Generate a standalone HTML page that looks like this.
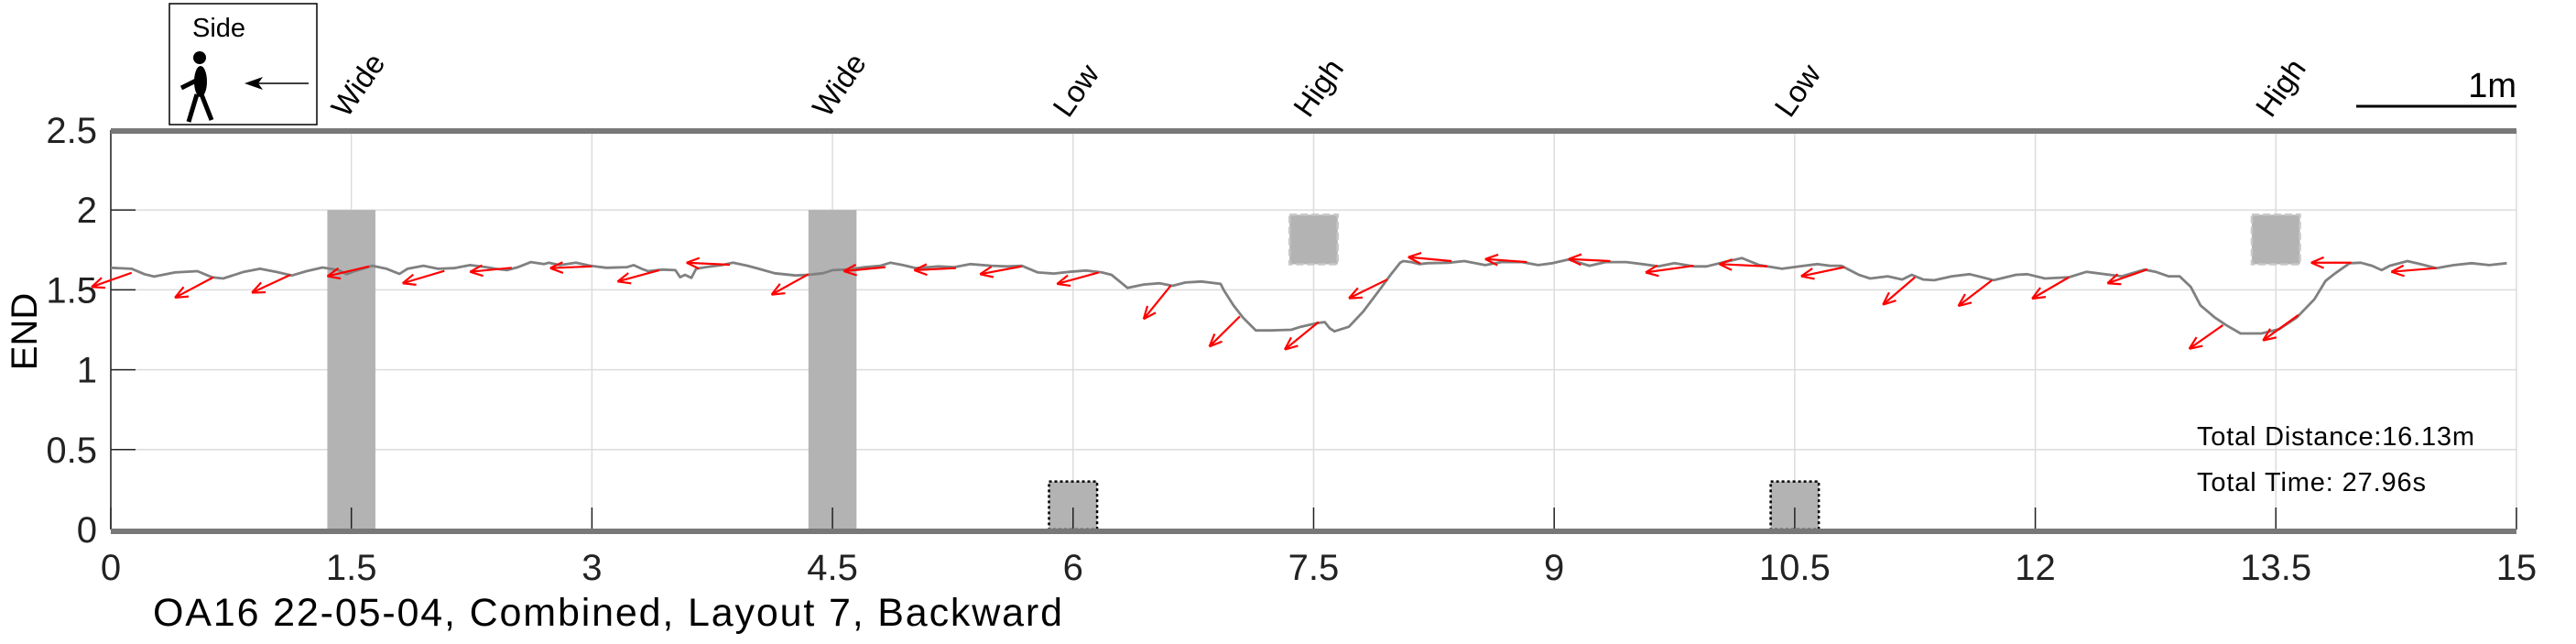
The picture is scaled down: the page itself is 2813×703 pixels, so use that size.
<!DOCTYPE html>
<html><head><meta charset="utf-8">
<style>
html,body{margin:0;padding:0;background:#fff;}
svg{display:block;font-family:"Liberation Sans",sans-serif;}
</style></head>
<body>
<svg id="chart" width="2813" height="703" viewBox="0 0 2813 703" xmlns="http://www.w3.org/2000/svg">
  <g id="grid"></g>
  <g id="obstacles"></g>
  <g id="axes"></g>
  <g id="series"></g>
  <g id="labels"></g>

  <g>
    <rect x="185" y="4" width="161" height="132" fill="#fff" stroke="#000" stroke-width="1.5"/>
    <text x="210" y="40" font-size="29" fill="#000">Side</text>
    <circle cx="218" cy="63" r="7" fill="#000"/>
    <ellipse cx="219" cy="89" rx="7" ry="17" fill="#000"/>
    <line x1="214" y1="88" x2="198" y2="96" stroke="#000" stroke-width="5"/>
    <line x1="215" y1="103" x2="206" y2="133" stroke="#000" stroke-width="5"/>
    <line x1="220" y1="103" x2="231" y2="131" stroke="#000" stroke-width="5"/>
    <line x1="337" y1="91" x2="280" y2="91" stroke="#000" stroke-width="1.5"/>
    <polygon points="267,91 287,84 282,91 287,98" fill="#000"/>
  </g>

  <g>
    <text x="2748" y="106" font-size="38" text-anchor="end" fill="#000">1m</text>
    <line x1="2573" y1="116" x2="2748" y2="116" stroke="#000" stroke-width="3"/>
  </g>

  <g>
    <text x="2399" y="486" font-size="29" textLength="303" fill="#000">Total Distance:16.13m</text>
    <text x="2399" y="536" font-size="29" textLength="250" fill="#000">Total Time: 27.96s</text>
  </g>

  <text x="0" y="0" font-size="40" text-anchor="middle" transform="translate(40,362) rotate(-90)" fill="#000">END</text>
  <text x="167" y="683" font-size="43" textLength="993" fill="#000">OA16 22-05-04, Combined, Layout 7, Backward</text>
</svg>
<script>
// ---- data ----
const pathX = [0.00,0.13,0.21,0.27,0.40,0.54,0.63,0.70,0.83,0.93,1.03,1.13,1.22,1.32,1.42,1.47,1.52,1.63,1.72,1.80,1.85,1.95,2.04,2.14,2.24,2.34,2.40,2.47,2.54,2.62,2.70,2.73,2.80,2.90,2.99,3.09,3.22,3.26,3.31,3.35,3.44,3.52,3.55,3.58,3.62,3.65,3.71,3.81,3.88,3.97,4.04,4.14,4.27,4.35,4.44,4.50,4.60,4.70,4.80,4.86,4.94,5.02,
5.16,5.26,5.36,5.49,5.59,5.68,5.78,5.88,5.98,6.08,6.18,6.24,6.34,6.44,6.54,6.62,6.70,6.80,6.92,6.94,7.00,7.06,7.14,7.23,7.36,7.42,7.52,7.57,7.60,7.63,7.72,7.81,7.91,7.98,8.04,8.06,8.11,8.16,8.21,8.34,8.44,8.57,8.67,8.80,8.90,8.99,9.09,9.22,9.32,9.45,9.55,9.65,9.75,9.87,
9.95,10.06,10.17,10.28,10.42,10.53,10.64,10.72,10.79,10.90,10.97,11.08,11.17,11.23,11.30,11.37,11.48,11.59,11.74,11.88,11.95,12.06,12.21,12.32,12.43,12.54,12.68,12.75,12.83,12.90,12.97,13.03,13.12,13.19,13.28,13.41,13.52,13.63,13.74,13.81,13.87,13.96,14.03,14.10,14.16,14.21,14.32,14.40,14.50,14.61,14.72,14.83,14.94];
const pathY = [1.638,1.632,1.598,1.583,1.609,1.617,1.579,1.571,1.613,1.632,1.613,1.590,1.617,1.640,1.623,1.598,1.617,1.651,1.632,1.600,1.632,1.651,1.632,1.636,1.655,1.642,1.632,1.623,1.642,1.674,1.661,1.670,1.655,1.670,1.651,1.638,1.642,1.655,1.632,1.617,1.627,1.623,1.579,1.594,1.575,1.632,1.642,1.655,1.670,1.651,1.632,1.604,1.590,1.594,1.604,1.623,1.628,1.642,1.651,1.670,1.655,1.636,
1.647,1.642,1.661,1.651,1.647,1.651,1.609,1.602,1.613,1.621,1.609,1.594,1.512,1.533,1.541,1.525,1.546,1.552,1.537,1.498,1.403,1.326,1.246,1.246,1.250,1.269,1.292,1.298,1.260,1.240,1.269,1.365,1.498,1.594,1.670,1.680,1.674,1.661,1.667,1.670,1.680,1.655,1.674,1.674,1.655,1.667,1.690,1.651,1.674,1.674,1.661,1.647,1.667,1.647,
1.647,1.674,1.699,1.655,1.632,1.647,1.661,1.651,1.651,1.594,1.571,1.585,1.565,1.594,1.565,1.560,1.585,1.598,1.560,1.594,1.598,1.571,1.579,1.613,1.598,1.585,1.627,1.613,1.585,1.585,1.518,1.403,1.326,1.279,1.227,1.227,1.254,1.326,1.441,1.556,1.604,1.667,1.670,1.651,1.623,1.651,1.680,1.661,1.636,1.655,1.667,1.655,1.667];

const arrowTailX = [0.13,0.64,1.12,1.61,2.08,2.50,3.00,3.42,3.86,4.35,4.83,5.27,5.68,6.16,6.61,7.04,7.53,7.96,8.36,8.83,9.35,9.87,10.33,10.81,11.25,11.73,12.21,12.70,13.17,13.64,13.97,14.50];
const arrowTailY = [1.607,1.579,1.594,1.647,1.619,1.638,1.647,1.623,1.657,1.598,1.642,1.636,1.647,1.609,1.527,1.334,1.298,1.565,1.680,1.674,1.680,1.651,1.647,1.642,1.579,1.560,1.579,1.628,1.279,1.342,1.670,1.636];
const arrowHeadX = [-0.12,0.40,0.88,1.35,1.82,2.24,2.74,3.16,3.59,4.12,4.57,5.01,5.42,5.90,6.44,6.85,7.32,7.72,8.09,8.57,9.09,9.57,10.03,10.54,11.05,11.52,11.98,12.45,12.96,13.42,13.72,14.22];
const arrowHeadY = [1.518,1.451,1.482,1.585,1.541,1.613,1.636,1.552,1.670,1.470,1.617,1.623,1.598,1.537,1.317,1.145,1.126,1.447,1.705,1.693,1.693,1.609,1.661,1.585,1.407,1.399,1.445,1.541,1.131,1.183,1.670,1.613];

const obstacleNames = ["Wide","Wide","Low","High","Low","High"];
const obstacleCenter = [1.5,4.5,6,7.5,10.5,13.5];
const obstacleWidth = [0.3,0.3,0.3,0.3,0.3,0.3];
const obstacleBottom = [0,0,0,1.66,0,1.66];
const obstacleTop = [2,2,0.3,1.97,0.3,1.97];

const xTicks = [0,1.5,3,4.5,6,7.5,9,10.5,12,13.5,15];
const xTickLabels = ["0","1.5","3","4.5","6","7.5","9","10.5","12","13.5","15"];
const yTicks = [0,0.5,1,1.5,2,2.5];
const yTickLabels = ["0","0.5","1","1.5","2","2.5"];

// ---- axes ----
const X0 = 121, XS = 175.13, Y0 = 578, YS = 174.4;
function xs(v){ return X0 + v*XS; }
function ys(v){ return Y0 - v*YS; }
const NS = "http://www.w3.org/2000/svg";
function mk(tag, attrs, parent){
  const e = document.createElementNS(NS, tag);
  for (const k in attrs) e.setAttribute(k, attrs[k]);
  parent.appendChild(e);
  return e;
}
const grid = document.getElementById('grid');
const axes = document.getElementById('axes');
const obs = document.getElementById('obstacles');
const series = document.getElementById('series');
const labels = document.getElementById('labels');

xTicks.forEach((t,i)=>{
  const g = mk('line',{x1:xs(t),x2:xs(t),y1:ys(2.5),y2:ys(0),stroke:'#dcdcdc','stroke-width':1.5},grid);
  
  
  const tk = mk('line',{x1:xs(t),x2:xs(t),y1:ys(0),y2:ys(0)-24,stroke:'#222','stroke-width':1.5},axes);
  
  
  const lb = mk('text',{x:xs(t),y:633,'font-size':40,'text-anchor':'middle',fill:'#222'},axes);
  lb.textContent = xTickLabels[i];
  
  
});
yTicks.forEach((t,i)=>{
  const g = mk('line',{x1:xs(0),x2:xs(15),y1:ys(t),y2:ys(t),stroke:'#dcdcdc','stroke-width':1.5},grid);
  
  
  const tk = mk('line',{x1:xs(0),x2:xs(0)+27,y1:ys(t),y2:ys(t),stroke:'#222','stroke-width':1.5},axes);
  
  
  const lb = mk('text',{x:106,y:ys(t)+14,'font-size':40,'text-anchor':'end',fill:'#222'},axes);
  lb.textContent = yTickLabels[i];
  
  
});
const la = mk('line',{x1:xs(0),x2:xs(0),y1:ys(2.5),y2:ys(0),stroke:'#222','stroke-width':1.5},axes);


const topB = mk('line',{x1:xs(0),x2:xs(15),y1:143,y2:143,stroke:'#787878','stroke-width':6},axes);


const botB = mk('line',{x1:xs(0),x2:xs(15),y1:580,y2:580,stroke:'#787878','stroke-width':6},axes);



// ---- obstacles ----
obstacleCenter.forEach((c,i)=>{
  const x1 = xs(c-obstacleWidth[i]/2), x2 = xs(c+obstacleWidth[i]/2);
  const y1 = ys(obstacleTop[i]), y2 = ys(obstacleBottom[i]);
  const attrs = {x:x1,y:y1,width:x2-x1,height:y2-y1,fill:'#b3b3b3'};
  if (obstacleNames[i]==='Low'){ attrs.stroke='#000'; attrs['stroke-width']=2.5; attrs['stroke-dasharray']='3,3'; }
  if (obstacleNames[i]==='High'){ attrs.stroke='#c8c8c8'; attrs['stroke-width']=2.5; attrs['stroke-dasharray']='8,4'; }
  const r = mk('rect',attrs,obs);
  
  
  const t = mk('text',{x:0,y:0,'font-size':33,fill:'#000',transform:'translate('+(xs(c)-5)+',130) rotate(-55)'},labels);
  t.textContent = obstacleNames[i];
  
  
});

// ---- path ----
let d = '';
pathX.forEach((x,i)=>{ d += (i?'L':'M') + xs(x).toFixed(1) + ',' + ys(pathY[i]).toFixed(1); });
const p = mk('path',{d:d,fill:'none',stroke:'#808080','stroke-width':2.8,'stroke-linejoin':'round'},series);



// ---- arrows ----
arrowTailX.forEach((tx,i)=>{
  const ax = xs(tx), ay = ys(arrowTailY[i]);
  const bx = xs(arrowHeadX[i]), by = ys(arrowHeadY[i]);
  const g = mk('g',{stroke:'#ff0000','stroke-width':2.2,fill:'none'},series);
  
  
  mk('line',{x1:ax,y1:ay,x2:bx,y2:by},g);
  const ang = Math.atan2(ay-by, ax-bx);
  [0.4,-0.4].forEach(o=>{
    mk('line',{x1:bx,y1:by,x2:bx+15*Math.cos(ang+o),y2:by+15*Math.sin(ang+o)},g);
  });
});
</script>
</body></html>
